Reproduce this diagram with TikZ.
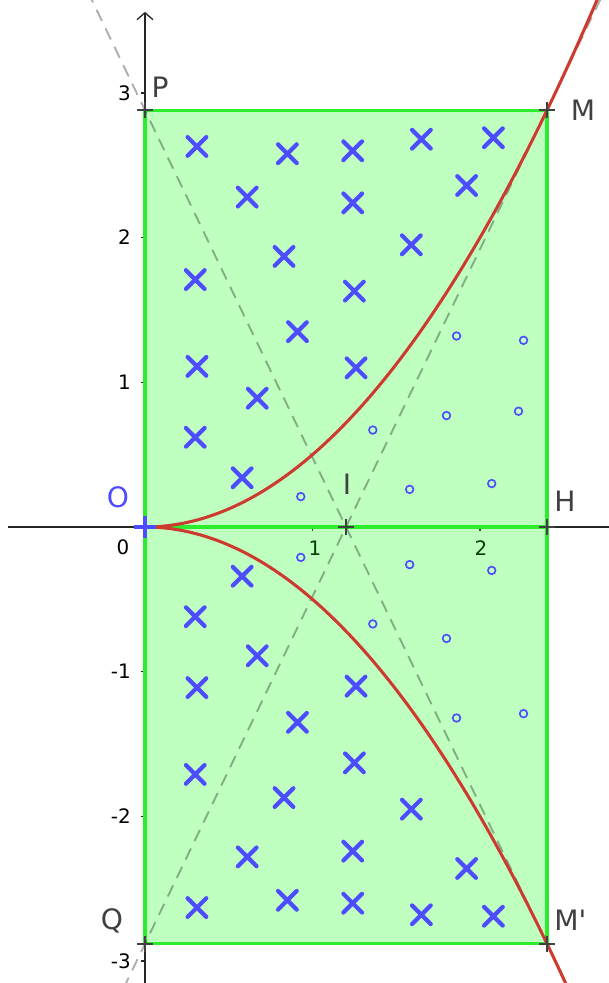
\documentclass[tikz,border=0pt]{standalone}
\usepackage{fontspec}
\setmainfont{DejaVu Sans}[Ligatures=TeXOff]
\usetikzlibrary{arrows.meta,calc}
\definecolor{ptblue}{RGB}{77,77,255}
\definecolor{curvered}{RGB}{204,58,48}
\definecolor{fillgreen}{RGB}{0,255,0}
\definecolor{edgegreen}{RGB}{45,235,45}
\definecolor{markgray}{RGB}{64,64,64}
\tikzset{
  % Axes, ticks and tick labels
  axisline/.style={line width=1.1pt, black!85},
  ticklabel/.style={font=\fontsize{17}{17}\selectfont, inner sep=0pt},
  % Shaded rectangle OPMM'Q
  region/.style={draw=edgegreen, line width=2.6pt, fill=fillgreen, fill opacity=0.25},
  % Tangent lines through I
  tanline/.style={black, draw opacity=0.32, line width=1.6pt, dash pattern=on 10.5pt off 7pt},
  % The parabola branches
  parab/.style={curvered, line width=2.6pt},
  % Sample points
  omark/.style={ptblue, line width=1.4pt},
  % Point names
  ptlabel/.style={font=\fontsize{24}{24}\selectfont, text=markgray, inner sep=0pt},
  xmark/.pic={\draw[ptblue, line width=3.6pt, line cap=round]
    (-0.28cm,-0.28cm) -- (0.28cm,0.28cm) (-0.28cm,0.28cm) -- (0.28cm,-0.28cm);},
  ptmark/.pic={\draw[markgray, line width=2pt]
    (-0.24cm,0) -- (0.24cm,0) (0,-0.24cm) -- (0,0.24cm);}
}

\begin{document}
\begin{tikzpicture}[x=5.025cm, y=4.341cm]
\useasboundingbox (-0.8657,-3.1514) rectangle (2.770,3.642);

% ============== POINTS ==============
\coordinate (O) at (0,0);
\coordinate (P) at (0,2.88);
\coordinate (M) at (2.4,2.88);
\coordinate (H) at (2.4,0);
\coordinate (I) at (1.2,0);
\coordinate (Q) at (0,-2.88);
\coordinate (Mp) at (2.4,-2.88);

% ============== AXES ==============
\coordinate (xmin) at (-0.818,0);
\coordinate (xmax) at (2.80,0);
\coordinate (ymin) at (0,-3.16);
\coordinate (ymax) at (0,3.56);
\draw[axisline] (xmin) -- (xmax);
\draw[axisline, -{Straight Barb[length=2.1mm, width=4.8mm]}] (ymin) -- (ymax);
\foreach \k in {-3,-2,-1,1,2,3} {
  \draw[axisline] (0,\k) -- ++(-0.13cm,0);
  \node[ticklabel, anchor=east] (ty\k) at (-0.084,\k) {\k};
}
\foreach \k in {1,2} {
  \draw[axisline] (\k,0) -- ++(0,-0.13cm);
}
\node[ticklabel] (tx1) at (1.015,-0.145) {1};
\node[ticklabel] (tx2) at (2.005,-0.145) {2};
\node[ticklabel] (tx0) at (-0.131,-0.138) {0};

% ============== RECTANGLE ==============
\draw[region] (Q) rectangle (M);
\draw[edgegreen, line width=2.6pt] (O) -- (H);

\begin{scope}
  \clip (-0.8657,-3.1514) rectangle (2.770,3.642);
  % tangents at M and M'
  \draw[tanline] ($(M)!-0.2!(Q)$) -- ($(M)!1.2!(Q)$);
  \draw[tanline] ($(Mp)!-0.2!(P)$) -- ($(Mp)!1.2!(P)$);
  % y = x^2/2 and its mirror
  \draw[parab] plot[domain=0:2.75, samples=90] (\x, {\x*\x/2});
  \draw[parab] plot[domain=0:2.75, samples=90] (\x, {-\x*\x/2});
\end{scope}

% ============== SAMPLE POINTS ==============
% crosses above the curve (mirrored below)
\foreach \px/\py in {0.31/2.63, 0.85/2.58, 1.24/2.60, 1.65/2.68, 2.08/2.69,
                     0.61/2.28, 1.24/2.24, 1.92/2.36, 0.30/1.71, 0.83/1.87,
                     1.25/1.63, 1.59/1.95, 0.91/1.35, 0.31/1.11, 1.26/1.10,
                     0.67/0.89, 0.30/0.62, 0.58/0.34} {
  \pic at (\px,\py) {xmark};
  \pic at (\px,-\py) {xmark};
}
% circles under the curve
\foreach \px/\py in {0.93/0.21, 1.36/0.67, 1.58/0.26, 1.80/0.77,
                     1.86/1.32, 2.07/0.30, 2.26/1.29} {
  \draw[omark] (\px,\py) circle (0.115cm);
  \draw[omark] (\px,-\py) circle (0.115cm);
}
\draw[omark] (2.23,0.80) circle (0.115cm);

% ============== NAMED POINTS ==============
\foreach \pt in {P,M,H,I,Q,Mp} {
  \pic at (\pt) {ptmark};
}
\draw[ptblue, line width=3pt] ($(O)+(-0.33cm,0)$) -- ($(O)+(0.33cm,0)$)
  ($(O)+(0,-0.33cm)$) -- ($(O)+(0,0.33cm)$);

\node[ptlabel] (lP) at ($(P)+(0.09,0.16)$) {P};
\node[ptlabel] (lM) at ($(M)+(0.215,0)$) {M};
\node[ptlabel, text=ptblue] (lO) at ($(O)+(-0.161,0.207)$) {O};
\node[ptlabel] (lI) at ($(I)+(0.006,0.297)$) {I};
\node[ptlabel] (lH) at ($(H)+(0.107,0.18)$) {H};
\node[ptlabel] (lQ) at ($(Q)+(-0.197,0.16)$) {Q};
\node[ptlabel] (lMp) at ($(Mp)+(0.14,0.16)$) {M'};

\end{tikzpicture}
\end{document}
